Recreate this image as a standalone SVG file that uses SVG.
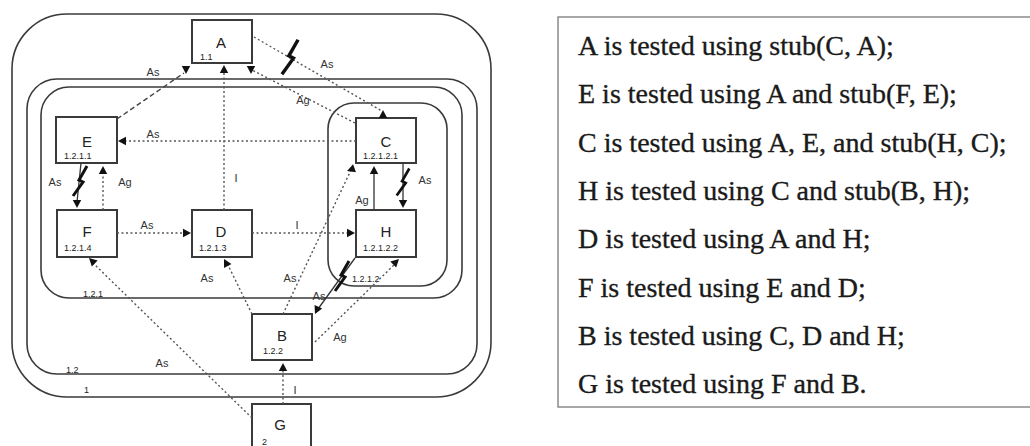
<svg xmlns="http://www.w3.org/2000/svg" width="1030" height="446" viewBox="0 0 1030 446">
<defs>
<style>
.region{fill:none;stroke:#3a3a3a;stroke-width:1.6}
.node rect{fill:#fff;stroke:#3a3a3a;stroke-width:2}
.nl{font-family:"Liberation Sans",Arial,sans-serif;font-size:15px;fill:#222;text-anchor:middle}
.nid{font-family:"Liberation Sans",Arial,sans-serif;font-size:9px;fill:#222}
.el{font-family:"Liberation Sans",Arial,sans-serif;font-size:11px;fill:#333;text-anchor:middle}
.dot{fill:none;stroke:#555;stroke-width:1.4;stroke-dasharray:2 2.5}
.dash{fill:none;stroke:#444;stroke-width:1.4;stroke-dasharray:5 3}
.solid{fill:none;stroke:#333;stroke-width:1.3}
.bolt{fill:none;stroke:#111;stroke-width:3}
.ah{fill:#111}
.txt{font-family:"Liberation Serif","Times New Roman",serif;font-size:28px;fill:#1a1a1a;stroke:#1a1a1a;stroke-width:0.35}
</style>
<path id="ah" d="M0,0 L-8,-4.2 L-8,4.2 Z"/>
<path id="bolt" d="M7,-15 L-1,-1 L3,1 L-7,15"/>
</defs>
<rect width="1030" height="446" fill="#fff"/>

<g id="regions">
<rect class="region" x="12" y="14" width="479" height="383" rx="55" ry="55"/>
<rect class="region" x="27" y="79" width="450" height="295" rx="30" ry="30"/>
<rect class="region" x="41" y="87" width="421" height="211" rx="28" ry="28"/>
<rect class="region" x="328" y="103" width="119" height="183" rx="26" ry="26"/>
<text class="nid" x="84" y="393">1</text>
<text class="nid" x="66" y="373">1.2</text>
<text class="nid" x="83" y="297">1.2.1</text>
<text class="nid" x="352" y="282">1.2.1.2</text>
</g>

<g id="node-A" class="node"><rect x="192" y="20" width="60" height="43"/><text class="nl" x="221" y="48">A</text><text class="nid" x="200" y="60">1.1</text></g>
<g id="node-E" class="node"><rect x="56" y="117" width="61" height="46"/><text class="nl" x="87" y="147">E</text><text class="nid" x="64" y="159">1.2.1.1</text></g>
<g id="node-F" class="node"><rect x="57" y="210" width="60" height="47"/><text class="nl" x="87" y="237">F</text><text class="nid" x="64" y="251">1.2.1.4</text></g>
<g id="node-D" class="node"><rect x="192" y="210" width="60" height="47"/><text class="nl" x="221" y="237">D</text><text class="nid" x="199" y="251">1.2.1.3</text></g>
<g id="node-C" class="node"><rect x="356" y="118" width="60" height="45"/><text class="nl" x="386" y="147">C</text><text class="nid" x="363" y="159">1.2.1.2.1</text></g>
<g id="node-H" class="node"><rect x="356" y="210" width="60" height="47"/><text class="nl" x="386" y="237">H</text><text class="nid" x="363" y="251">1.2.1.2.2</text></g>
<g id="node-B" class="node"><rect x="252" y="314" width="60" height="46"/><text class="nl" x="282" y="341">B</text><text class="nid" x="263" y="354">1.2.2</text></g>
<g id="node-G" class="node"><rect x="252" y="404" width="59" height="50"/><text class="nl" x="280" y="430">G</text><text class="nid" x="262" y="445">2</text></g>

<g id="connectors">
<line class="dash" x1="117" y1="119" x2="184" y2="73"/>
<line class="dot" x1="224" y1="210" x2="224" y2="70"/>
<line class="dot" x1="254" y1="37" x2="382" y2="111"/>
<line class="dot" x1="355" y1="123" x2="252" y2="70"/>
<line class="dot" x1="356" y1="141" x2="122" y2="141"/>
<line class="solid" x1="81" y1="163" x2="77" y2="202"/>
<line class="dot" x1="103" y1="210" x2="103" y2="172"/>
<line class="dot" x1="117" y1="233" x2="185" y2="233"/>
<line class="dot" x1="252" y1="233" x2="349" y2="233"/>
<line class="solid" x1="374" y1="210" x2="374" y2="172"/>
<line class="solid" x1="403" y1="163" x2="403" y2="201"/>
<line class="dot" x1="283" y1="314" x2="351" y2="170"/>
<line class="solid" x1="355" y1="258" x2="318" y2="309"/>
<line class="dot" x1="315" y1="342" x2="395" y2="264"/>
<line class="dot" x1="252" y1="314" x2="227" y2="263"/>
<line class="dot" x1="252" y1="418" x2="92" y2="262"/>
<line class="dot" x1="283" y1="404" x2="283" y2="369"/>

<use href="#bolt" class="bolt" transform="translate(290,57) scale(1.15)"/>
<use href="#bolt" class="bolt" transform="translate(80,181)"/>
<use href="#bolt" class="bolt" transform="translate(403,182) scale(0.9)"/>
<use href="#bolt" class="bolt" transform="translate(342,276)"/>

<use href="#ah" class="ah" transform="translate(186,74) rotate(90)"/>
<use href="#ah" class="ah" transform="translate(224,65) rotate(-90)"/>
<use href="#ah" class="ah" transform="translate(251,74) rotate(90)"/>
<use href="#ah" class="ah" transform="translate(383,110) rotate(-90)"/>
<use href="#ah" class="ah" transform="translate(118,141) rotate(180)"/>
<use href="#ah" class="ah" transform="translate(77,208) rotate(90)"/>
<use href="#ah" class="ah" transform="translate(103,166) rotate(-90)"/>
<use href="#ah" class="ah" transform="translate(191,233)"/>
<use href="#ah" class="ah" transform="translate(355,233)"/>
<use href="#ah" class="ah" transform="translate(374,166) rotate(-90)"/>
<use href="#ah" class="ah" transform="translate(403,208) rotate(90)"/>
<use href="#ah" class="ah" transform="translate(347,171) rotate(160)"/>
<use href="#ah" class="ah" transform="translate(399,259) rotate(-44)"/>
<use href="#ah" class="ah" transform="translate(315,314) rotate(115)"/>
<use href="#ah" class="ah" transform="translate(224,259) rotate(-118)"/>
<use href="#ah" class="ah" transform="translate(89,258) rotate(-136)"/>
<use href="#ah" class="ah" transform="translate(283,363) rotate(-90)"/>

<text class="el" x="153" y="76">As</text>
<text class="el" x="236" y="182">I</text>
<text class="el" x="327" y="68">As</text>
<text class="el" x="303" y="104">Ag</text>
<text class="el" x="153" y="138">As</text>
<text class="el" x="55" y="186">As</text>
<text class="el" x="125" y="186">Ag</text>
<text class="el" x="147" y="229">As</text>
<text class="el" x="297" y="229">I</text>
<text class="el" x="362" y="204">Ag</text>
<text class="el" x="425" y="184">As</text>
<text class="el" x="290" y="282">As</text>
<text class="el" x="319" y="300">As</text>
<text class="el" x="340" y="341">Ag</text>
<text class="el" x="207" y="282">As</text>
<text class="el" x="162" y="367">As</text>
<text class="el" x="295" y="394">I</text>
</g>

<g id="legend">
<rect x="558" y="17" width="480" height="390" fill="#fff" stroke="#8a8a8a" stroke-width="1.5"/>
<text class="txt" x="578" y="55">A is tested using stub(C, A);</text>
<text class="txt" x="578" y="103.3">E is tested using A and stub(F, E);</text>
<text class="txt" x="578" y="151.6">C is tested using A, E, and stub(H, C);</text>
<text class="txt" x="578" y="199.9">H is tested using C and stub(B, H);</text>
<text class="txt" x="578" y="248.2">D is tested using A and H;</text>
<text class="txt" x="578" y="296.5">F is tested using E and D;</text>
<text class="txt" x="578" y="344.8">B is tested using C, D and H;</text>
<text class="txt" x="578" y="393.1">G is tested using F and B.</text>
</g>
</svg>
